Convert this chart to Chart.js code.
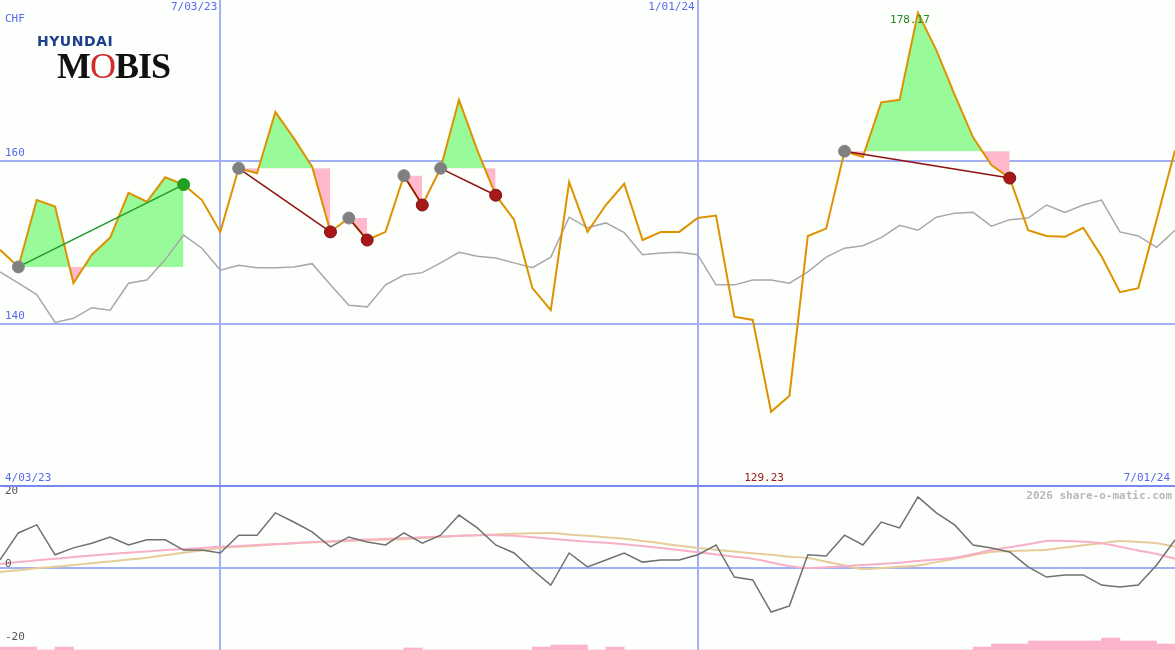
<!DOCTYPE html>
<html>
<head>
<meta charset="utf-8">
<script src="https://cdn.jsdelivr.net/npm/chart.js@4"></script>
<style>
  body { margin:0; background:#fcfffc; width:1175px; height:650px; overflow:hidden; position:relative; font-family:"DejaVu Sans Mono", monospace; }
  #top { position:absolute; left:0; top:0; }
  #bot { position:absolute; left:0; top:487px; }
  .logo1 { position:absolute; left:37px; top:33px; font:bold 14px "DejaVu Sans", sans-serif; color:#1e3f8e; letter-spacing:0.5px; }
  .logo2 { position:absolute; left:57px; top:45px; font:bold 36px "Liberation Serif", serif; color:#111; letter-spacing:-1px; }
  .logo2 span { color:#d42a2a; font-weight:normal; }
</style>
</head>
<body>
<canvas id="top" width="1175" height="487"></canvas>
<canvas id="bot" width="1175" height="163"></canvas>
<div class="logo1">HYUNDAI</div>
<div class="logo2">M<span>O</span>BIS</div>
<script>
// weekly closes (CHF), 4/03/23 .. 7/01/24
var price = [149.1,147.0,155.2,154.4,145.0,148.5,150.6,156.1,155.0,158.0,157.1,155.2,151.3,159.1,158.5,166.0,162.8,159.3,151.3,153.0,150.3,151.3,158.2,154.6,159.1,167.5,161.3,155.8,152.8,144.4,141.7,157.4,151.3,154.6,157.2,150.3,151.3,151.3,153.0,153.3,140.9,140.5,129.23,131.2,150.8,151.7,161.2,160.5,167.2,167.5,178.17,173.6,168.1,162.9,159.5,157.9,151.5,150.8,150.7,151.8,148.3,143.9,144.4,152.8,161.3];
var compare = [146.4,145.0,143.6,140.2,140.7,142.0,141.7,145.0,145.4,147.9,150.9,149.3,146.6,147.2,146.9,146.9,147.0,147.4,144.8,142.3,142.1,144.8,146.0,146.3,147.5,148.8,148.3,148.1,147.5,146.9,148.2,153.1,151.8,152.4,151.2,148.5,148.7,148.8,148.5,144.8,144.8,145.4,145.4,145.0,146.4,148.2,149.3,149.6,150.6,152.1,151.5,153.1,153.6,153.7,152.0,152.8,153.0,154.6,153.7,154.6,155.2,151.3,150.8,149.4,151.5];
var momentum = [2.2,9.6,11.8,3.6,5.5,6.8,8.5,6.3,7.7,7.7,4.9,4.9,4.1,9.0,9.0,15.1,12.6,9.9,5.8,8.5,7.1,6.3,9.6,6.8,9.0,14.5,11.0,6.3,4.1,-0.5,-4.7,4.1,0.3,2.2,4.1,1.6,2.2,2.2,3.6,6.3,-2.5,-3.3,-12.1,-10.4,3.6,3.3,9.0,6.3,12.6,11.0,19.5,15.1,11.8,6.3,5.5,4.4,0.3,-2.5,-1.9,-1.9,-4.7,-5.2,-4.7,0.8,7.7];
var maFast = [1.1,1.6,2.1,2.5,3.0,3.4,3.8,4.2,4.5,4.9,5.2,5.5,5.8,6.0,6.3,6.5,6.8,7.1,7.3,7.6,7.8,8.0,8.2,8.4,8.6,8.8,9.0,9.0,8.8,8.4,8.0,7.6,7.2,6.9,6.5,6.0,5.5,4.9,4.3,3.7,3.1,2.5,1.5,0.5,0.0,0.2,0.5,0.8,1.1,1.4,1.9,2.3,2.8,3.8,4.9,5.7,6.5,7.4,7.4,7.2,6.8,5.8,4.8,3.8,2.5];
var maSlow = [-1.1,-0.6,-0.1,0.3,0.8,1.3,1.8,2.3,2.8,3.5,4.2,4.8,5.5,5.8,6.1,6.5,6.8,7.0,7.2,7.4,7.6,7.7,7.9,8.2,8.5,8.8,9.0,9.2,9.4,9.5,9.6,9.2,8.8,8.4,8.0,7.4,6.8,6.1,5.5,5.0,4.5,4.0,3.6,3.1,2.7,1.7,0.7,-0.3,0.0,0.3,0.7,1.6,2.5,3.5,4.4,4.6,4.8,5.0,5.6,6.2,6.8,7.4,7.1,6.8,5.8];
var volume = [3,3,0,3,0,0,0,0,0,0,0,0,0,0,0,0,0,0,0,0,0,0,2,0,0,0,0,0,0,3,5,5,0,3,0,0,0,0,0,0,0,0,0,0,0,0,0,0,0,0,0,0,0,3,6,6,9,9,9,9,12,9,9,6,0];
// signal segments: [start index, end index, up?]
var segments = [[1,10,true],[13,18,false],[19,20,false],[22,23,false],[24,27,false],[46,55,false]];
var dateTicks = [[12,'7/03/23'],[38,'1/01/24']];
var priceTicks = [140,160];
var momTicks = [20,0,-20];

var BLUE = '#a4b0f4', LBL = '#5a68f0';
function pts(arr) { return arr.map(function (v, i) { return {x: i, y: v}; }); }

var datasets = [];
segments.forEach(function (s) {
  var a = s[0], b = s[1], base = price[a];
  var d = [];
  for (var i = a; i <= b; i++) d.push({x: i, y: price[i]});
  datasets.push({type:'line', data:d, borderWidth:0, pointRadius:0, tension:0,
    fill:{value:base, above:'#98fa98', below:'#ffb8cc'}, order:5});
});
datasets.push({type:'line', data:pts(compare), borderColor:'#a8a8a8', borderWidth:1.5, pointRadius:0, tension:0, order:4});
datasets.push({type:'line', data:pts(price), borderColor:'#de9200', borderWidth:2, pointRadius:0, tension:0, order:3});
segments.forEach(function (s) {
  var up = s[2];
  datasets.push({type:'line', data:[{x:s[0], y:price[s[0]]}, {x:s[1], y:price[s[1]]}],
    borderColor: up ? '#229922' : '#8e1010', borderWidth:1.5, tension:0,
    pointRadius:6, pointBorderWidth:1,
    pointBackgroundColor:['#808080', up ? '#22a022' : '#a81818'],
    pointBorderColor:['#888888', up ? '#229922' : '#7a1010'], order:1});
});

function gridPlugin(hTicks, labels) {
  return {
    id:'grid',
    beforeDatasetsDraw: function (chart) {
      var c = chart.ctx, xs = chart.scales.x, ys = chart.scales.y;
      c.save();
      c.strokeStyle = BLUE; c.lineWidth = 2;
      hTicks.forEach(function (t) {
        var y = Math.round(ys.getPixelForValue(t));
        c.beginPath(); c.moveTo(0, y); c.lineTo(chart.width, y); c.stroke();
      });
      dateTicks.forEach(function (t) {
        var x = Math.round(xs.getPixelForValue(t[0]));
        c.beginPath(); c.moveTo(x, 0); c.lineTo(x, chart.height); c.stroke();
      });
      c.restore();
    },
    afterDraw: function (chart) {
      var c = chart.ctx, xs = chart.scales.x, ys = chart.scales.y;
      c.save();
      c.font = '11px "DejaVu Sans Mono"';
      labels(c, xs, ys, chart);
      c.restore();
    }
  };
}

new Chart(document.getElementById('top'), {
  data: {datasets: datasets},
  options: {
    responsive:false, animation:false, events:[],
    layout:{padding:0, autoPadding:false},
    plugins:{legend:{display:false}, tooltip:{enabled:false}},
    scales:{
      x:{type:'linear', min:0, max:price.length - 1, display:false, offset:false},
      y:{min:120, max:179.75, display:false}
    }
  },
  plugins:[gridPlugin(priceTicks, function (c, xs, ys, chart) {
    c.fillStyle = LBL; c.textBaseline = 'bottom'; c.textAlign = 'left';
    c.fillText('CHF', 5, 25);
    priceTicks.forEach(function (t) { c.fillText(String(t), 5, ys.getPixelForValue(t) - 2); });
    c.textAlign = 'right';
    dateTicks.forEach(function (t) { c.fillText(t[1], xs.getPixelForValue(t[0]) - 3, 13); });
    c.fillText('7/01/24', 1170, 484);
    c.textAlign = 'left';
    c.fillText('4/03/23', 5, 484);
    var hi = price.indexOf(Math.max.apply(null, price));
    var lo = price.indexOf(Math.min.apply(null, price));
    c.textAlign = 'center';
    c.fillStyle = '#228822';
    c.fillText(Math.max.apply(null, price).toFixed(2), xs.getPixelForValue(hi) - 8, 26);
    c.fillStyle = '#a01818';
    c.fillText(Math.min.apply(null, price).toFixed(2), xs.getPixelForValue(lo) - 7, 484);
    c.strokeStyle = '#7888ec'; c.lineWidth = 2;
    c.beginPath(); c.moveTo(0, chart.height - 1); c.lineTo(chart.width, chart.height - 1); c.stroke();
  })]
});

new Chart(document.getElementById('bot'), {
  data: {datasets: [
    {type:'bar', data:volume.map(function (v, i) { return {x:i + 0.5, y:v}; }), yAxisID:'v',
      backgroundColor:'#fbb4cc', barPercentage:1, categoryPercentage:1, order:5},
    {type:'line', data:pts(maSlow), borderColor:'#e6cc9a', borderWidth:2, pointRadius:0, tension:0.3, order:3},
    {type:'line', data:pts(maFast), borderColor:'#f8b0c8', borderWidth:2, pointRadius:0, tension:0.3, order:2},
    {type:'line', data:pts(momentum), borderColor:'#707070', borderWidth:1.5, pointRadius:0, tension:0, order:1}
  ]},
  options: {
    responsive:false, animation:false, events:[],
    layout:{padding:0, autoPadding:false},
    plugins:{legend:{display:false}, tooltip:{enabled:false}},
    scales:{
      x:{type:'linear', min:0, max:momentum.length - 1, display:false, offset:false, grid:{offset:false}},
      y:{min:-22.5, max:22.2, display:false},
      v:{min:0, max:163, display:false}
    }
  },
  plugins:[gridPlugin([0], function (c, xs, ys) {
    c.fillStyle = '#555'; c.textAlign = 'left'; c.textBaseline = 'middle';
    momTicks.forEach(function (t) { c.fillText(String(t), 5, ys.getPixelForValue(t) - 4); });
    c.fillStyle = '#b8b8b8'; c.textAlign = 'right';
    c.font = 'bold 11px "DejaVu Sans Mono"';
    c.fillText('2026 share-o-matic.com', 1172, 9);
  })]
});
</script>
</body>
</html>
